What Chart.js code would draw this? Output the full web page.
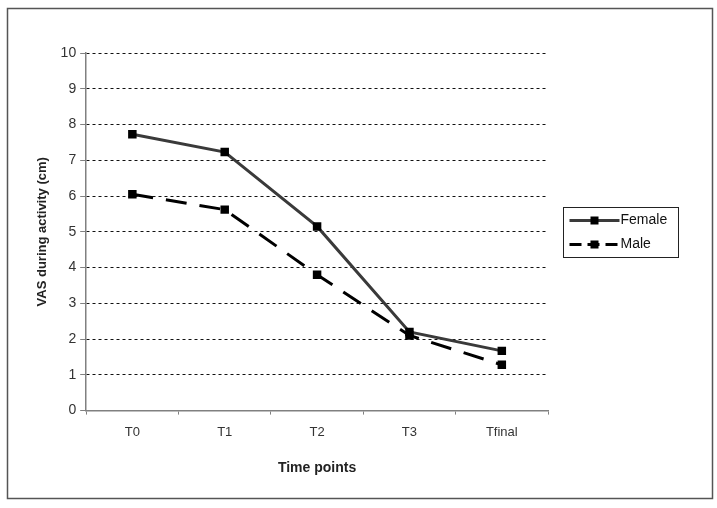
<!DOCTYPE html>
<html>
<head>
<meta charset="utf-8">
<script src="https://cdn.jsdelivr.net/npm/chart.js@4.4.0/dist/chart.umd.min.js"></script>
<style>
  html, body { margin: 0; padding: 0; background: #fff; }
  #wrap { width: 717px; height: 508px; position: relative; }
</style>
</head>
<body>
<div id="wrap"><canvas id="chart" width="717" height="508"></canvas></div>
<script>
"use strict";

// Data
const timePoints = ["T0", "T1", "T2", "T3", "Tfinal"];
const femaleVas = [7.73, 7.23, 5.15, 2.2, 1.67];
const maleVas = [6.05, 5.62, 3.8, 2.1, 1.28];
const seriesNames = ["Female", "Male"];

const FONT = "'Liberation Sans', Arial, sans-serif";

// Outer frame + boxed legend like the Excel original
const framePlugin = {
    id: "frame",
    beforeDraw(chart) {
        const c = chart.ctx;
        c.save();
        c.fillStyle = "#fff";
        c.fillRect(0, 0, chart.width, chart.height);
        c.strokeStyle = "#555";
        c.lineWidth = 1.5;
        c.strokeRect(7.5, 8.5, 705, 490);
        c.restore();
    },
    afterDraw(chart) {
        const c = chart.ctx;
        const x0 = 563.5, y0 = 207.5, w = 115, h = 50;
        c.save();
        c.strokeStyle = "#222";
        c.lineWidth = 1;
        c.strokeRect(x0, y0, w, h);
        chart.data.datasets.forEach((ds, i) => {
            const ly = y0 + 13 + i * 24;
            c.strokeStyle = ds.borderColor;
            c.lineWidth = 3;
            c.setLineDash(i === 1 ? [12, 6] : []);
            c.beginPath();
            c.moveTo(x0 + 6, ly);
            c.lineTo(x0 + 56, ly);
            c.stroke();
            c.setLineDash([]);
            c.fillStyle = "#000";
            c.fillRect(x0 + 27, ly - 4, 8, 8);
            c.fillStyle = "#111";
            c.font = "14px " + FONT;
            c.textBaseline = "middle";
            c.fillText(ds.label, x0 + 57, ly);
        });
        c.restore();
    }
};

const ctx = document.getElementById("chart").getContext("2d");
new Chart(ctx, {
    type: "line",
    data: {
        labels: timePoints,
        datasets: [{
            label: seriesNames[0],
            data: femaleVas,
            borderColor: "#3a3a3a",
            borderWidth: 3,
            pointStyle: "rect",
            pointRadius: 6,
            pointBackgroundColor: "#000",
            pointBorderColor: "#000",
            pointBorderWidth: 0,
            tension: 0
        }, {
            label: seriesNames[1],
            data: maleVas,
            borderColor: "#000",
            borderWidth: 3,
            borderDash: [21, 13],
            pointStyle: "rect",
            pointRadius: 6,
            pointBackgroundColor: "#000",
            pointBorderColor: "#000",
            pointBorderWidth: 0,
            tension: 0
        }]
    },
    options: {
        responsive: false,
        animation: false,
        layout: { padding: { left: 35, right: 169, top: 53, bottom: 31 } },
        plugins: {
            legend: { display: false },
            tooltip: { enabled: false }
        },
        scales: {
            x: {
                offset: true,
                grid: { drawOnChartArea: false, drawTicks: true, tickLength: 4, offset: true, color: "#808080" },
                border: { display: true, color: "#808080", width: 1.5 },
                ticks: { color: "#333", font: { family: FONT, size: 13 }, padding: 10 },
                title: { display: true, text: "Time points", color: "#222", font: { family: FONT, size: 14, weight: "bold" }, padding: { top: 10, bottom: 0 } }
            },
            y: {
                min: 0,
                max: 10,
                ticks: { stepSize: 1, color: "#333", font: { family: FONT, size: 14 }, padding: 4 },
                grid: { color: "#111", lineWidth: 1, tickLength: 6, tickColor: "#808080", drawTicks: true },
                border: { display: true, color: "#808080", width: 1.5, dash: [3, 3] },
                title: { display: true, text: "VAS during activity (cm)", color: "#222", font: { family: FONT, size: 13, weight: "bold" }, padding: { top: 0, bottom: 6 } }
            }
        }
    },
    plugins: [framePlugin]
});
</script>
</body>
</html>
